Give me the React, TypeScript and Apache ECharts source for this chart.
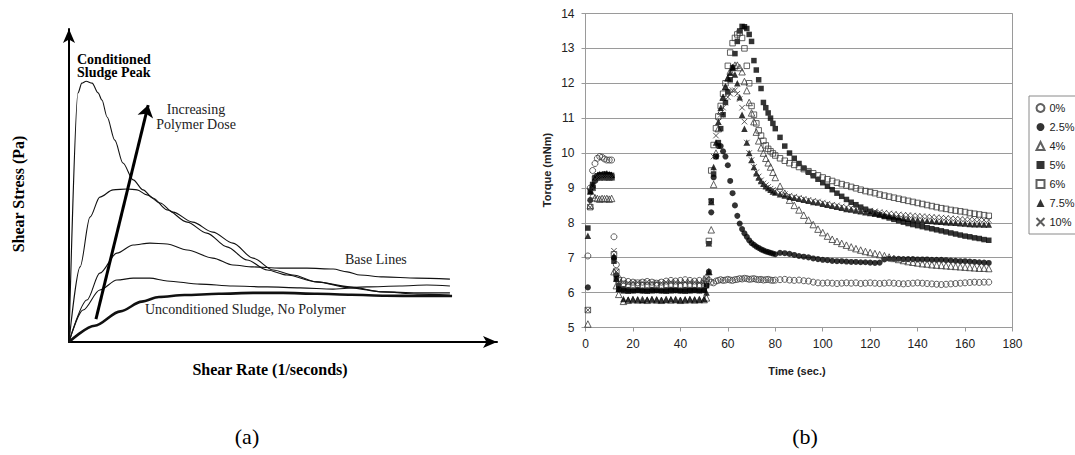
import React, { useEffect, useRef } from "react";
import * as echarts from "echarts";

// ---------- Panel (a): schematic shear stress curves (arbitrary units) ----------
const peakCurve = [[0,0],[2.1,79.6],[3.0,82.7],[4.0,83.3],[5.4,82.7],[6.8,79.6],[7.7,77.3],[8.9,71.9],[10.7,64.5],[12.6,57.2],[15.0,51.8],[17.3,48.6],[19.6,46.0],[22.9,42.2],[27.6,38.3],[32.2,34.8],[36.9,30.4],[41.6,26.2],[46.3,23.0],[50.9,21.4],[57.9,19.2],[65.7,17.6],[73.4,16.0],[81.3,15.3],[89.0,15.0]];
const secondCurve = [[0,0],[2.6,24.0],[4.9,39.9],[7.2,46.3],[10.3,48.6],[13.6,48.9],[15.9,48.6],[18.2,47.0],[21.3,44.4],[24.3,41.5],[28.9,38.3],[33.6,35.1],[38.3,31.6],[43.0,26.8],[47.7,23.0],[52.3,21.4],[57.9,19.2],[65.7,17.3],[73.4,16.0],[81.3,15.7],[89.0,15.7]];
const baseUpper = [[0,0],[4.2,13.4],[7.2,22.0],[11.2,28.4],[15.0,31.0],[18.9,31.6],[22.9,31.3],[27.6,29.4],[33.6,26.8],[38.3,24.6],[43.0,24.0],[49.3,23.6],[55.6,23.6],[61.7,23.3],[65.0,22.4],[68.0,21.4],[73.4,20.8],[81.3,20.4],[89.0,20.1]];
const baseLower = [[0,0],[3.3,10.2],[7.2,16.6],[11.2,19.8],[15.0,20.4],[18.9,20.4],[22.9,19.5],[30.6,18.5],[38.3,17.9],[46.3,17.6],[54.0,17.3],[61.7,16.9],[69.6,17.6],[77.3,17.9],[83.6,18.2],[89.0,17.9]];
const unconditioned = [[0,0],[6,5.2],[12,9.8],[17,12.9],[21,14.4],[27,15.0],[35,15.4],[43,15.7],[50,15.7],[58,15.4],[66,15.1],[74,14.8],[82,14.7],[89.5,14.7]];
const doseArrow = [[6.3, 7.3], [18.5, 75.7]];

// ---------- Panel (b): torque vs time ----------
const seriesNames = ["0%", "2.5%", "4%", "5%", "6%", "7.5%", "10%"];
const xTicks = { min: 0, max: 180, interval: 20 };
const yTicks = { min: 5, max: 14, interval: 1 };

const times = [1,2,3,4,5,6,7,8,9,10,11,12,13,14,
  16,18,20,22,24,26,28,30,32,34,36,38,40,42,44,46,48,50,
  51,52,53,54,55,56,57,58,59,60,61,62,63,64,65,66,67,68,69,70,71,72,73,74,75,76,77,78,79,80,
  82,84,86,88,90,92,94,96,98,100,102,104,106,108,110,112,114,116,118,120,122,124,126,128,130,132,134,136,138,140,142,144,146,148,150,152,154,156,158,160,162,164,166,168,170];

const pct0 = [7.05,9.0,9.5,9.7,9.85,9.9,9.88,9.83,9.8,9.8,9.8,7.6,6.8,6.4,
  6.35,6.32,6.3,6.28,6.3,6.32,6.3,6.27,6.3,6.33,6.35,6.33,6.35,6.37,6.35,6.33,6.35,6.34,
  6.33,6.35,6.3,6.28,6.33,6.35,6.37,6.35,6.36,6.38,6.36,6.35,6.37,6.38,6.4,6.39,6.41,6.4,6.38,6.39,6.4,6.38,6.37,6.38,6.36,6.37,6.38,6.36,6.35,6.36,
  6.37,6.38,6.36,6.35,6.36,6.34,6.33,6.3,6.28,6.27,6.28,6.27,6.26,6.27,6.28,6.27,6.28,6.26,6.27,6.28,6.27,6.26,6.27,6.28,6.27,6.26,6.25,6.26,6.27,6.28,6.27,6.26,6.25,6.24,6.23,6.24,6.25,6.26,6.27,6.28,6.29,6.3,6.29,6.3,6.3];
const pct25 = [6.15,8.65,9.0,9.2,9.3,9.32,9.3,9.33,9.3,9.32,9.3,7.0,6.5,6.2,
  6.1,6.08,6.07,6.08,6.06,6.07,6.08,6.07,6.06,6.07,6.08,6.07,6.06,6.08,6.07,6.08,6.07,6.08,
  6.2,6.6,8.3,9.3,9.9,10.2,10.2,10.05,9.9,9.65,9.2,8.85,8.5,8.2,7.98,7.82,7.7,7.6,7.5,7.42,7.37,7.32,7.28,7.24,7.21,7.18,7.16,7.14,7.12,7.1,
  7.14,7.13,7.11,7.08,7.05,7.03,7.01,6.98,6.96,6.94,6.93,6.91,6.9,6.9,6.89,6.88,6.88,6.87,6.87,6.86,6.85,6.86,6.95,6.97,6.97,6.97,6.96,6.96,6.96,6.95,6.95,6.95,6.94,6.94,6.94,6.93,6.92,6.91,6.9,6.9,6.89,6.88,6.87,6.86,6.85];
const pct4 = [5.1,8.5,8.8,8.72,8.7,8.68,8.7,8.69,8.7,8.68,8.7,6.6,6.2,5.95,
  5.75,5.78,5.8,5.79,5.8,5.78,5.8,5.79,5.78,5.8,5.79,5.8,5.78,5.79,5.8,5.79,5.8,5.8,
  5.85,6.6,7.8,9.1,10.0,10.7,11.2,11.6,11.9,12.15,12.35,12.45,12.52,12.52,12.45,12.33,12.05,11.79,11.45,11.15,10.9,10.6,10.35,10.15,10.0,9.85,9.72,9.6,9.45,9.3,
  9.05,8.85,8.65,8.5,8.37,8.22,8.08,7.95,7.82,7.72,7.62,7.53,7.47,7.41,7.36,7.31,7.26,7.22,7.18,7.15,7.12,7.09,7.06,7.02,6.98,6.95,6.92,6.89,6.87,6.85,6.83,6.82,6.8,6.79,6.78,6.77,6.76,6.75,6.74,6.73,6.72,6.71,6.7,6.7,6.69];
const pct5 = [7.85,8.9,9.1,9.3,9.35,9.38,9.36,9.4,9.37,9.38,9.36,6.9,6.4,6.1,
  6.05,6.04,6.05,6.06,6.05,6.04,6.05,6.06,6.05,6.04,6.05,6.06,6.05,6.04,6.05,6.06,6.05,6.06,
  6.2,7.4,8.63,9.4,9.9,10.3,10.7,11.1,11.45,11.75,12.1,12.45,12.85,13.2,13.5,13.63,13.62,13.57,13.4,13.2,12.65,12.38,12.1,11.85,11.45,11.3,11.15,11.0,10.85,10.7,
  10.45,10.2,10.0,9.85,9.7,9.57,9.45,9.35,9.25,9.15,9.05,8.95,8.85,8.76,8.67,8.59,8.52,8.45,8.39,8.33,8.28,8.23,8.18,8.14,8.1,8.06,8.02,7.98,7.95,7.92,7.89,7.86,7.83,7.8,7.77,7.74,7.71,7.68,7.65,7.62,7.6,7.57,7.55,7.52,7.5];
const pct6 = [5.5,8.45,9.0,9.25,9.3,9.3,9.32,9.3,9.31,9.3,9.3,7.1,6.6,6.35,
  6.25,6.22,6.2,6.22,6.21,6.2,6.22,6.21,6.2,6.22,6.23,6.22,6.21,6.22,6.23,6.22,6.21,6.22,
  6.4,7.48,9.5,10.23,10.71,11.05,11.35,11.7,12.0,12.5,12.88,13.15,13.3,13.4,13.45,13.3,13.0,12.5,12.0,11.35,11.1,10.85,10.65,10.5,10.35,10.22,10.12,10.05,9.99,9.93,
  9.85,9.78,9.71,9.66,9.6,9.54,9.48,9.42,9.36,9.3,9.25,9.2,9.15,9.11,9.07,9.03,8.99,8.95,8.91,8.88,8.85,8.81,8.78,8.75,8.72,8.69,8.66,8.63,8.6,8.57,8.54,8.51,8.48,8.45,8.42,8.4,8.37,8.35,8.33,8.31,8.28,8.26,8.24,8.22,8.2];
const pct75 = [7.63,8.9,9.1,9.3,9.35,9.4,9.38,9.4,9.42,9.4,9.38,7.05,6.4,6.1,
  5.82,5.8,5.81,5.8,5.79,5.8,5.81,5.8,5.79,5.8,5.81,5.8,5.79,5.8,5.81,5.8,5.8,5.82,
  6.0,6.6,8.6,9.6,10.3,10.9,11.3,11.6,11.9,12.15,12.3,12.45,12.25,12.0,11.6,11.1,10.7,10.3,10.0,9.8,9.6,9.42,9.3,9.2,9.12,9.05,9.0,8.95,8.9,8.87,
  8.82,8.78,8.75,8.72,8.69,8.66,8.63,8.6,8.58,8.55,8.52,8.49,8.46,8.43,8.4,8.38,8.35,8.33,8.3,8.28,8.26,8.24,8.22,8.2,8.18,8.16,8.14,8.12,8.1,8.09,8.07,8.06,8.05,8.04,8.03,8.02,8.01,8.0,7.99,7.98,7.97,7.96,7.96,7.95,7.95];
const pct10 = [5.5,8.45,9.0,9.25,9.3,9.3,9.3,9.3,9.3,9.3,9.3,7.2,6.6,6.3,
  6.3,6.28,6.3,6.29,6.3,6.31,6.29,6.3,6.28,6.3,6.31,6.3,6.29,6.3,6.31,6.3,6.29,6.3,
  6.4,7.4,8.6,9.9,10.5,10.9,11.1,11.3,11.45,11.6,11.7,11.8,11.8,11.7,11.55,11.3,10.9,10.3,10.0,9.8,9.6,9.45,9.33,9.22,9.13,9.08,9.03,8.98,8.94,8.91,
  8.86,8.82,8.78,8.75,8.72,8.69,8.66,8.63,8.61,8.58,8.55,8.52,8.5,8.47,8.45,8.43,8.41,8.39,8.37,8.35,8.33,8.31,8.29,8.27,8.26,8.24,8.23,8.22,8.21,8.2,8.19,8.18,8.17,8.16,8.15,8.14,8.13,8.12,8.11,8.1,8.1,8.09,8.09,8.08,8.08];

const SANS = '"Liberation Sans", Arial, sans-serif';
const SERIF = '"Liberation Serif", "Times New Roman", serif';
const CROSS = "path://M0 0L10 10M10 0L0 10";

const open = (c = "#3a3a3a") => ({ color: "rgba(255,255,255,0)", borderColor: c, borderWidth: 1 });
const filled = { color: "#000" };

const styles = [
  { symbol: "circle", size: 6, itemStyle: open() },
  { symbol: "circle", size: 6, itemStyle: filled },
  { symbol: "triangle", size: 6.5, itemStyle: open() },
  { symbol: "rect", size: 5.5, itemStyle: filled },
  { symbol: "rect", size: 5.5, itemStyle: open() },
  { symbol: "triangle", size: 6.5, itemStyle: filled },
  { symbol: CROSS, size: 5.5, itemStyle: { color: "none", borderColor: "#333", borderWidth: 1 } },
];
const values = [pct0, pct25, pct4, pct5, pct6, pct75, pct10];

function buildOption() {
  const curveLine = (name: string, data: number[][], width = 1.1) => ({
    name,
    type: "line",
    xAxisIndex: 0,
    yAxisIndex: 0,
    data,
    smooth: 0.3,
    smoothMonotone: "x",
    showSymbol: false,
    symbol: "none",
    lineStyle: { color: "#111", width },
    silent: true,
    z: 3,
  });

  const scatter = seriesNames.map((name, i) => ({
    name,
    type: "scatter",
    xAxisIndex: 1,
    yAxisIndex: 1,
    symbol: styles[i].symbol,
    symbolSize: styles[i].size,
    itemStyle: styles[i].itemStyle,
    data: times.map((t, k) => [t, values[i][k]]),
    silent: true,
  }));

  const arrowAxisLine = {
    show: true,
    symbol: ["none", "arrow"],
    symbolSize: [9, 14],
    lineStyle: { color: "#000", width: 2 },
  };

  return {
    animation: false,
    backgroundColor: "#fff",
    grid: [
      { left: 69, top: 29, width: 428, height: 313 },
      { left: 585.5, top: 13.5, width: 427, height: 314, show: true, borderColor: "#9a9a9a", borderWidth: 1 },
    ],
    xAxis: [
      { gridIndex: 0, type: "value", min: 0, max: 100, axisLine: arrowAxisLine, axisTick: { show: false }, axisLabel: { show: false }, splitLine: { show: false } },
      {
        gridIndex: 1, type: "value", min: xTicks.min, max: xTicks.max, interval: xTicks.interval,
        axisLine: { show: true, lineStyle: { color: "#9a9a9a" } },
        axisTick: { show: true, length: 4, lineStyle: { color: "#9a9a9a" } },
        axisLabel: { margin: 10, fontSize: 12, color: "#222", fontFamily: SANS },
        splitLine: { show: false },
      },
    ],
    yAxis: [
      { gridIndex: 0, type: "value", min: 0, max: 100, axisLine: arrowAxisLine, axisTick: { show: false }, axisLabel: { show: false }, splitLine: { show: false } },
      {
        gridIndex: 1, type: "value", min: yTicks.min, max: yTicks.max, interval: yTicks.interval,
        axisLine: { show: true, lineStyle: { color: "#9a9a9a" } },
        axisTick: { show: true, length: 4, lineStyle: { color: "#9a9a9a" } },
        axisLabel: { margin: 11, fontSize: 12, color: "#222", fontFamily: SANS },
        splitLine: { show: true, lineStyle: { color: "#9a9a9a", width: 1 } },
      },
    ],
    legend: {
      data: seriesNames,
      orient: "vertical",
      left: 1029,
      top: 96,
      itemWidth: 8,
      itemHeight: 8,
      itemGap: 5,
      padding: [5, 4, 5, 5],
      borderColor: "#8a8a8a",
      borderWidth: 1,
      backgroundColor: "#fff",
      textStyle: { fontSize: 11, fontFamily: SANS, color: "#222", lineHeight: 14 },
    },
    series: [
      curveLine("peak", peakCurve),
      curveLine("second", secondCurve),
      curveLine("baseUpper", baseUpper),
      curveLine("baseLower", baseLower),
      {
        ...curveLine("unconditioned", unconditioned, 2.6),
        markLine: {
          silent: true,
          symbol: ["none", "arrow"],
          symbolSize: 12,
          label: { show: false },
          lineStyle: { color: "#000", width: 3, type: "solid" },
          data: [[{ coord: doseArrow[0] }, { coord: doseArrow[1] }]],
        },
      },
      ...scatter,
    ],
    graphic: [
      { type: "text", x: 77, y: 59, style: { text: "Conditioned", font: `bold 14px ${SERIF}`, fill: "#000", textVerticalAlign: "middle" } },
      { type: "text", x: 77, y: 72, style: { text: "Sludge Peak", font: `bold 14px ${SERIF}`, fill: "#000", textVerticalAlign: "middle" } },
      { type: "text", x: 196, y: 109, style: { text: "Increasing", font: `14px ${SERIF}`, fill: "#222", textAlign: "center", textVerticalAlign: "middle" } },
      { type: "text", x: 196, y: 124, style: { text: "Polymer Dose", font: `14px ${SERIF}`, fill: "#222", textAlign: "center", textVerticalAlign: "middle" } },
      { type: "text", x: 345, y: 259, style: { text: "Base Lines", font: `14px ${SERIF}`, fill: "#222", textVerticalAlign: "middle" } },
      { type: "text", x: 145, y: 309, style: { text: "Unconditioned Sludge, No Polymer", font: `14px ${SERIF}`, fill: "#222", textVerticalAlign: "middle" } },
      { type: "text", x: 18, y: 194, rotation: Math.PI / 2, style: { text: "Shear Stress (Pa)", font: `bold 16px ${SERIF}`, fill: "#000", textAlign: "center", textVerticalAlign: "middle" } },
      { type: "text", x: 270, y: 369, style: { text: "Shear Rate (1/seconds)", font: `bold 16px ${SERIF}`, fill: "#000", textAlign: "center", textVerticalAlign: "middle" } },
      { type: "text", x: 547, y: 170, rotation: Math.PI / 2, style: { text: "Torque (mNm)", font: `bold 11px ${SANS}`, fill: "#222", textAlign: "center", textVerticalAlign: "middle" } },
      { type: "text", x: 797, y: 371, style: { text: "Time (sec.)", font: `bold 11px ${SANS}`, fill: "#222", textAlign: "center", textVerticalAlign: "middle" } },
      { type: "text", x: 247, y: 436, style: { text: "(a)", font: `22px ${SERIF}`, fill: "#000", textAlign: "center", textVerticalAlign: "middle" } },
      { type: "text", x: 805, y: 436, style: { text: "(b)", font: `22px ${SERIF}`, fill: "#000", textAlign: "center", textVerticalAlign: "middle" } },
    ],
  };
}

export default function App() {
  const ref = useRef<HTMLDivElement>(null);
  useEffect(() => {
    if (!ref.current) return;
    const chart = echarts.init(ref.current, null, { renderer: "svg" });
    chart.setOption(buildOption() as any);
    return () => chart.dispose();
  }, []);
  return <div ref={ref} style={{ position: "absolute", left: 0, top: 0, width: 1075, height: 455 }} />;
}
